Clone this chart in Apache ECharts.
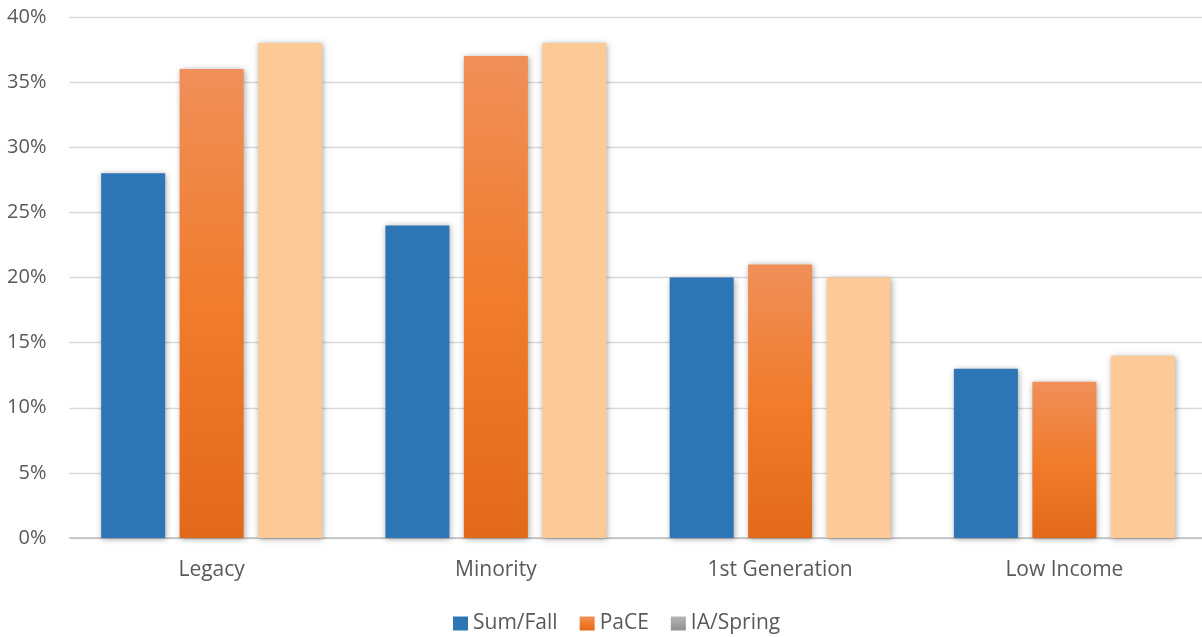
<!DOCTYPE html>
<html>
<head>
<meta charset="utf-8">
<script src="https://cdn.jsdelivr.net/npm/echarts@6/dist/echarts.min.js"></script>
<style>
  html, body { margin: 0; padding: 0; background: #fff; overflow: hidden; }
  #chart { width: 1208px; height: 637px; }
</style>
</head>
<body>
<div id="chart"></div>
<script>
// Share of students in each group, by admission round
const categories = ['Legacy', 'Minority', '1st Generation', 'Low Income'];
const sumFall = [28, 24, 20, 13];
const pace = [36, 37, 21, 12];
const iaSpring = [38, 38, 20, 14];
const yTicks = [0, 5, 10, 15, 20, 25, 30, 35, 40];

const font = 'Open Sans, "Noto Sans", Calibri, sans-serif';
const shadow = { shadowColor: 'rgba(0,0,0,0.35)', shadowBlur: 6, shadowOffsetX: 1, shadowOffsetY: 1 };

const orangeGrad = new echarts.graphic.LinearGradient(0, 0, 0, 1, [
  { offset: 0, color: '#F08F59' },
  { offset: 0.5, color: '#F07C2C' },
  { offset: 1, color: '#E3691A' }
]);
const grayGrad = new echarts.graphic.LinearGradient(0, 0, 0, 1, [
  { offset: 0, color: '#B5B5B5' },
  { offset: 1, color: '#8F8F8F' }
]);

const chart = echarts.init(document.getElementById('chart'), null, { renderer: 'canvas' });
chart.setOption({
  animation: false,
  backgroundColor: '#fff',
  grid: { left: 69.5, right: 1.5, top: 17, bottom: 99, containLabel: false },
  legend: {
    bottom: -2,
    left: 448,
    itemWidth: 15,
    itemHeight: 14,
    itemGap: 22,
    icon: 'rect',
    textStyle: { fontFamily: font, fontSize: 21, color: '#595959' },
    data: [
      { name: 'Sum/Fall' },
      { name: 'PaCE' },
      { name: 'IA/Spring', itemStyle: { color: grayGrad } }
    ]
  },
  xAxis: {
    type: 'category',
    data: categories,
    axisTick: { show: false },
    axisLine: { lineStyle: { color: '#BFBFBF', width: 1.5 } },
    axisLabel: { fontFamily: font, fontSize: 21, color: '#595959', margin: 22 }
  },
  yAxis: {
    type: 'value',
    min: yTicks[0],
    max: yTicks[yTicks.length - 1],
    interval: 5,
    axisLine: { show: false },
    axisTick: { show: false },
    splitLine: { lineStyle: { color: '#D9D9D9', width: 1.3 } },
    axisLabel: {
      fontFamily: font, fontSize: 20, color: '#595959', margin: 23,
      formatter: v => v + '%'
    }
  },
  series: [
    {
      name: 'Sum/Fall', type: 'bar', data: sumFall,
      barWidth: 64, barGap: '22.6%',
      itemStyle: Object.assign({ color: '#2E75B6' }, shadow)
    },
    {
      name: 'PaCE', type: 'bar', data: pace,
      barWidth: 64, barGap: '22.6%',
      itemStyle: Object.assign({ color: orangeGrad }, shadow)
    },
    {
      name: 'IA/Spring', type: 'bar', data: iaSpring,
      barWidth: 64, barGap: '22.6%',
      itemStyle: Object.assign({ color: '#FDC996' }, shadow)
    }
  ]
});
</script>
</body>
</html>
